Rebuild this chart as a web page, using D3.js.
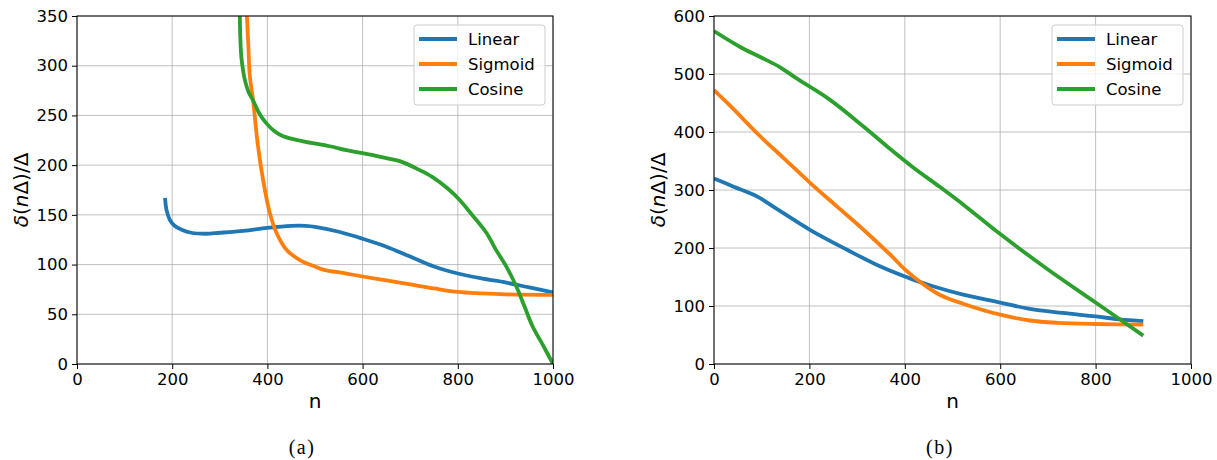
<!DOCTYPE html>
<html>
<head>
<meta charset="utf-8">
<script src="https://cdn.jsdelivr.net/npm/d3@7"></script>
<style>
  body { margin: 0; background: #fff; }
  svg { display: block; }
  text { font-family: "DejaVu Sans", sans-serif; }
</style>
</head>
<body>
<svg id="chart" width="1217" height="460"></svg>
<script>
// ---- Panel (a): delta(n·Δ)/Δ against n for three schedules ----
const aLinearN   = [185, 188, 195, 205, 220, 240, 270, 300, 350, 400, 450, 480, 500, 550, 600, 650, 700, 750, 800, 850, 900, 950, 1000];
const aLinearV   = [167, 155, 145, 139, 135, 132, 131, 132, 134, 137, 139, 139, 138, 133, 126, 118, 108, 98, 91, 86, 82, 77, 72];
const aSigmoidN  = [355, 357, 360, 363, 370, 380, 391, 405, 419, 440, 470, 500, 517, 566, 600, 650, 700, 750, 800, 850, 900, 1000];
const aSigmoidV  = [380, 350, 320, 290, 265, 220, 185, 152, 132, 115, 104, 98, 95, 91, 88, 84, 80, 76, 72.5, 71, 70, 69.5];
const aCosineN   = [341, 342, 343, 345, 349, 353, 360, 370, 383, 398, 415, 433, 475, 531, 566, 600, 650, 678, 720, 747, 780, 804, 830, 860, 880, 902, 923, 940, 957, 980, 1000];
const aCosineV   = [380, 350, 330, 310, 295, 285, 274, 265, 252, 242, 234, 229, 224, 219, 215, 212, 207, 204, 195, 188, 176, 165, 150, 132, 115, 98, 78, 58, 38, 18, 0];

// ---- Panel (b) ----
const bLinearN   = [0, 40, 90, 125, 202, 279, 349, 419, 459, 520, 600, 662, 730, 800, 850, 900];
const bLinearV   = [320, 306, 289, 271, 231, 197, 168, 145, 134, 120, 106, 95, 88, 82, 77, 74];
const bSigmoidN  = [0, 45, 90, 146, 202, 260, 314, 370, 403, 438, 474, 522, 600, 662, 720, 800, 900];
const bSigmoidV  = [472, 436, 398, 355, 312, 270, 231, 188, 161, 138, 119, 104, 85, 75, 71, 69, 68];
const bCosineN   = [0, 54, 100, 138, 174, 244, 314, 363, 419, 474, 530, 600, 700, 800, 900];
const bCosineV   = [574, 547, 528, 512, 492, 455, 409, 375, 338, 305, 270, 224, 163, 106, 49];

const seriesNames = ["Linear", "Sigmoid", "Cosine"];
const seriesColors = ["#1f77b4", "#ff7f0e", "#2ca02c"];

const xTicks = [0, 200, 400, 600, 800, 1000];
const aYTicks = [0, 50, 100, 150, 200, 250, 300, 350];
const bYTicks = [0, 100, 200, 300, 400, 500, 600];

const panels = [
  {
    id: "a", caption: "(a)", left: 77, right: 553, top: 16, bottom: 364,
    yMax: 350, yTicks: aYTicks, yLabelX: 28, captionX: 302,
    series: [[aLinearN, aLinearV], [aSigmoidN, aSigmoidV], [aCosineN, aCosineV]]
  },
  {
    id: "b", caption: "(b)", left: 714, right: 1191, top: 16, bottom: 364,
    yMax: 600, yTicks: bYTicks, yLabelX: 665, captionX: 940,
    series: [[bLinearN, bLinearV], [bSigmoidN, bSigmoidV], [bCosineN, bCosineV]]
  }
];

const svg = d3.select("#chart");
const defs = svg.append("defs");

panels.forEach(p => {
  const x = d3.scaleLinear().domain([0, 1000]).range([p.left, p.right]);
  const y = d3.scaleLinear().domain([0, p.yMax]).range([p.bottom, p.top]);
  const g = svg.append("g");

  defs.append("clipPath").attr("id", "clip-" + p.id)
    .append("rect")
    .attr("x", p.left).attr("y", p.top)
    .attr("width", p.right - p.left).attr("height", p.bottom - p.top);

  // grid
  const grid = g.append("g").attr("stroke", "#b0b0b0").attr("stroke-width", 0.8);
  xTicks.forEach(t => grid.append("line")
    .attr("x1", x(t)).attr("x2", x(t)).attr("y1", p.top).attr("y2", p.bottom));
  p.yTicks.forEach(t => grid.append("line")
    .attr("x1", p.left).attr("x2", p.right).attr("y1", y(t)).attr("y2", y(t)));

  // curves
  const line = d3.line()
    .x(d => x(d[0])).y(d => y(d[1]))
    .curve(d3.curveCatmullRom.alpha(0.5));
  const lines = g.append("g").attr("clip-path", `url(#clip-${p.id})`);
  p.series.forEach((s, i) => {
    const pts = s[0].map((n, k) => [n, s[1][k]]);
    lines.append("path")
      .datum(pts)
      .attr("d", line)
      .attr("fill", "none")
      .attr("stroke", seriesColors[i])
      .attr("stroke-width", 3.8)
      .attr("stroke-linejoin", "round")
      .attr("stroke-linecap", "butt");
  });

  // axes
  const xAxis = g.append("g")
    .attr("transform", `translate(0,${p.bottom})`)
    .call(d3.axisBottom(x).tickValues(xTicks).tickSize(5).tickPadding(4).tickFormat(d3.format("d")));
  const yAxis = g.append("g")
    .attr("transform", `translate(${p.left},0)`)
    .call(d3.axisLeft(y).tickValues(p.yTicks).tickSize(5).tickPadding(4).tickFormat(d3.format("d")));
  [xAxis, yAxis].forEach(ax => {
    ax.select(".domain").remove();
    ax.selectAll("line").attr("stroke", "#000").attr("stroke-width", 1);
    ax.selectAll("text").attr("fill", "#000")
      .style("font-family", "DejaVu Sans, sans-serif").style("font-size", "16.5px");
  });

  // frame
  g.append("rect")
    .attr("x", p.left).attr("y", p.top)
    .attr("width", p.right - p.left).attr("height", p.bottom - p.top)
    .attr("fill", "none").attr("stroke", "#000").attr("stroke-width", 1);

  // axis titles
  g.append("text")
    .attr("x", (p.left + p.right) / 2).attr("y", 408)
    .attr("text-anchor", "middle")
    .style("font-size", "20px").attr("fill", "#000")
    .text("n");

  const yl = g.append("text")
    .attr("transform", `translate(${p.yLabelX},${(p.top + p.bottom) / 2}) rotate(-90)`)
    .attr("text-anchor", "middle")
    .style("font-size", "20px").attr("fill", "#000");
  yl.append("tspan").style("font-style", "italic").text("δ");
  yl.append("tspan").text("(");
  yl.append("tspan").style("font-style", "italic").text("n");
  yl.append("tspan").text("Δ)/Δ");

  // caption
  g.append("text")
    .attr("x", p.captionX).attr("y", 454)
    .attr("text-anchor", "middle")
    .style("font-family", "Liberation Serif, DejaVu Serif, serif")
    .style("font-size", "20px").style("letter-spacing", "1.5px").attr("fill", "#000")
    .text(p.caption);

  // legend
  const lx = p.right - 139, ly = 25;
  const leg = g.append("g");
  leg.append("rect")
    .attr("x", lx).attr("y", ly).attr("width", 131).attr("height", 80)
    .attr("rx", 3).attr("ry", 3)
    .attr("fill", "rgba(255,255,255,0.8)").attr("stroke", "#cccccc").attr("stroke-width", 1);
  seriesNames.forEach((name, i) => {
    const cy = ly + 14 + i * 25;
    leg.append("line")
      .attr("x1", lx + 5).attr("x2", lx + 43).attr("y1", cy).attr("y2", cy)
      .attr("stroke", seriesColors[i]).attr("stroke-width", 3.8);
    leg.append("text")
      .attr("x", lx + 54).attr("y", cy + 6)
      .style("font-size", "16.5px").attr("fill", "#000")
      .text(name);
  });
});
</script>
</body>
</html>
